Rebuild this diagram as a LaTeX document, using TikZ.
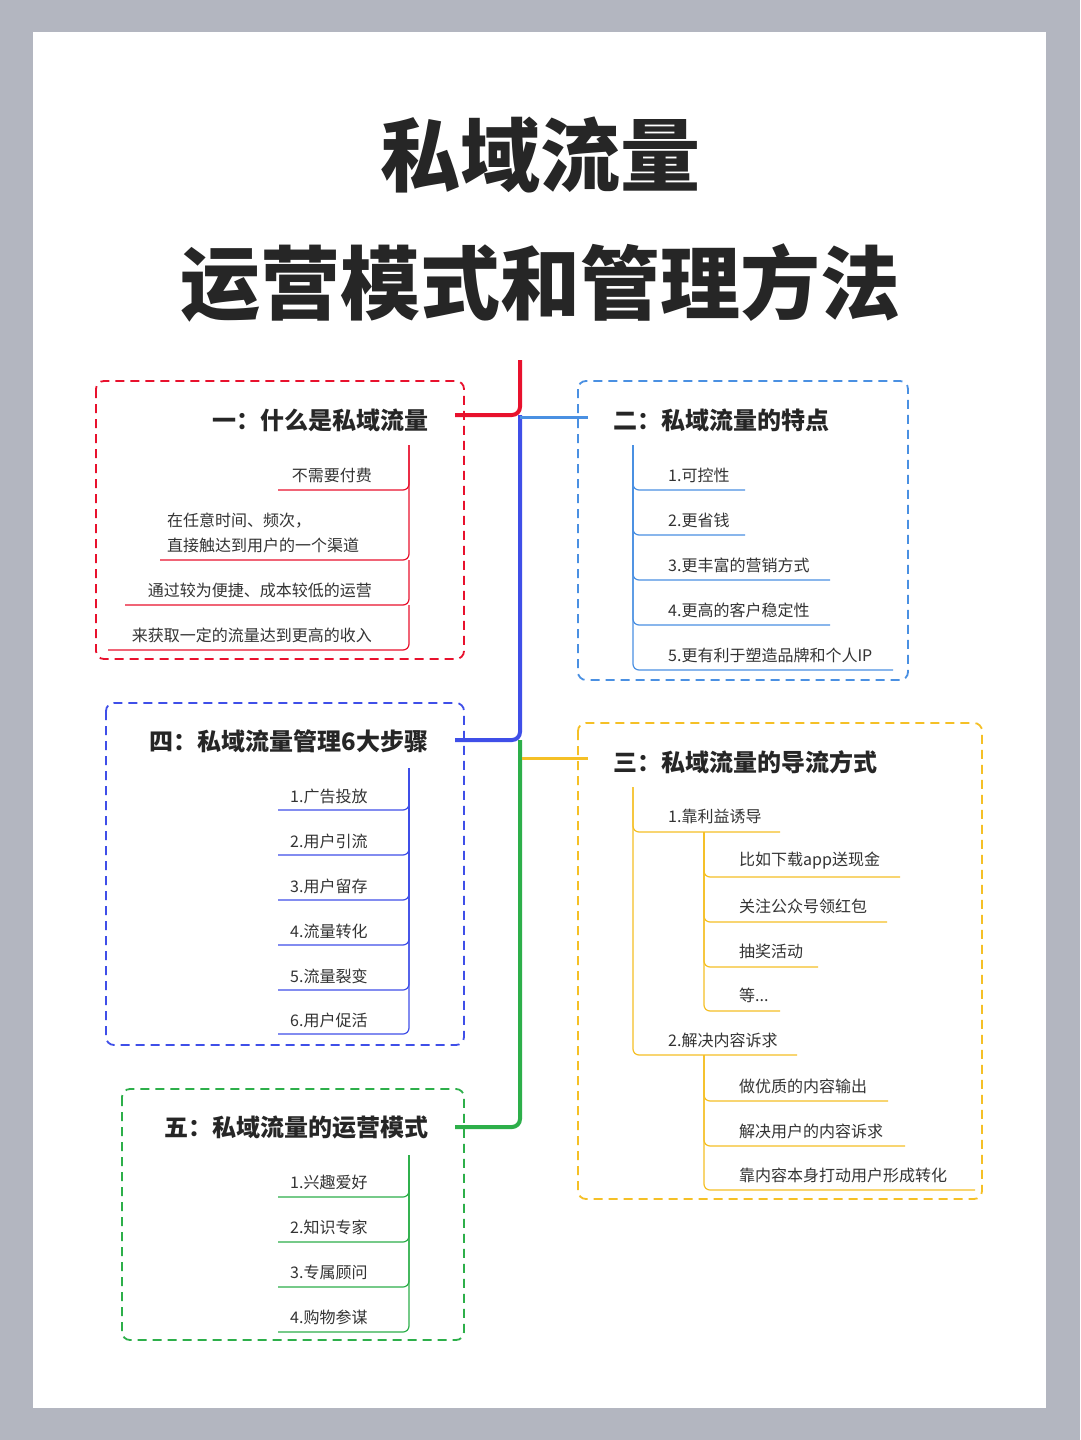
\documentclass[tikz,border=0pt]{standalone}
\usepackage{fontspec}
\setmainfont{Noto Sans CJK SC}
\definecolor{cred}{HTML}{E8112D}
\definecolor{cblue}{HTML}{3F4FE8}
\definecolor{lblue}{HTML}{4A90E2}
\definecolor{cyel}{HTML}{F5C026}
\definecolor{cgrn}{HTML}{2DAF4A}
\definecolor{bgg}{HTML}{B3B6C0}
\begin{document}
\begin{tikzpicture}[x=1pt,y=-1pt,
  dbox/.style={dashed,dash pattern=on 9pt off 6pt,line width=1.8pt,rounded corners=8pt},
  ttl/.style={font=\fontsize{24}{26}\selectfont\bfseries,text=black!85},
  itm/.style={font=\fontsize{16}{18}\selectfont,text=black!80,inner sep=0pt},
  br/.style={line width=1.2pt,rounded corners=6pt},
  trunk/.style={line width=4pt,rounded corners=8pt}]
\fill[bgg] (0,0) rectangle (1080,1440);
\fill[white] (33,32) rectangle (1046,1408);
\node[font=\fontsize{80}{84}\selectfont\bfseries,text=black!85] (t1) at (540,155) {私域流量};
\node[font=\fontsize{80}{84}\selectfont\bfseries,text=black!85] (t2) at (540,283) {运营模式和管理方法};
% trunk
\draw[trunk,cred] (520,360) -- (520,415) -- (455,415);
\draw[trunk,cblue] (520,415) -- (520,740) -- (455,740);
\draw[trunk,cgrn] (520,740) -- (520,1127) -- (455,1127);
\draw[line width=3pt,lblue] (520,417) -- (588,417);
\draw[line width=3pt,cyel] (522,758) -- (588,758);
% boxes
\draw[dbox,cred] (96,381) rectangle (464,659);
\draw[dbox,lblue] (578,381) rectangle (908,680);
\draw[dbox,cblue] (106,703) rectangle (464,1045);
\draw[dbox,cgrn] (122,1089) rectangle (464,1340);
\draw[dbox,cyel] (578,723) rectangle (982,1199);
% titles
\node[ttl,anchor=east] (g1) at (432,420) {一：什么是私域流量};
\node[ttl,anchor=west] (g2) at (610,420) {二：私域流量的特点};
\node[ttl,anchor=east] (g4) at (432,741) {四：私域流量管理6大步骤};
\node[ttl,anchor=east] (g5) at (432,1127) {五：私域流量的运营模式};
\node[ttl,anchor=west] (g3) at (610,762) {三：私域流量的导流方式};
% group 1
\foreach \t/\y/\x in {不需要付费/475/278,通过较为便捷、成本较低的运营/590/125,来获取一定的流量达到更高的收入/635/108}{
  \node[itm,anchor=east] at (372,\y) {\t};
  \draw[br,cred] (\x,\y+15) -- (409,\y+15) -- (409,\y-30);}
\node[itm,anchor=west,align=left,font=\fontsize{16}{25}\selectfont] (a2) at (167,533) {在任意时间、频次，\\直接触达到用户的一个渠道};
\draw[br,cred] (160,560) -- (409,560) -- (409,445);
% group 2
\foreach \t/\y/\e in {1.可控性/475/745,2.更省钱/520/745,3.更丰富的营销方式/565/830,4.更高的客户稳定性/610/830,5.更有利于塑造品牌和个人IP/655/893}{
  \node[itm,anchor=west] at (668,\y) {\t};
  \draw[br,lblue] (633,445) -- (633,\y+15) -- (\e,\y+15);}
% group 4
\foreach \t/\y in {1.广告投放/796,2.用户引流/841,3.用户留存/886,4.流量转化/931,5.流量裂变/976,6.用户促活/1020}{
  \node[itm,anchor=west] at (290,\y) {\t};
  \draw[br,cblue] (278,\y+14) -- (409,\y+14) -- (409,768);}
% group 5
\foreach \t/\y in {1.兴趣爱好/1182,2.知识专家/1227,3.专属顾问/1272,4.购物参谋/1317}{
  \node[itm,anchor=west] at (290,\y) {\t};
  \draw[br,cgrn] (278,\y+15) -- (409,\y+15) -- (409,1155);}
% group 3
\node[itm,anchor=west] (y1) at (668,816) {1.靠利益诱导};
\draw[br,cyel] (633,787) -- (633,832) -- (780,832);
\node[itm,anchor=west] (y2) at (668,1040) {2.解决内容诉求};
\draw[br,cyel] (633,787) -- (633,1055) -- (797,1055);
\foreach \t/\y/\e in {比如下载app送现金/861/900,关注公众号领红包/906/887,抽奖活动/951/818,{等...}/995/780}{
  \node[itm,anchor=west] at (739,\y) {\t};
  \draw[br,cyel] (704,832) -- (704,\y+16) -- (\e,\y+16);}
\foreach \t/\y/\e in {做优质的内容输出/1086/888,解决用户的内容诉求/1131/905,靠内容本身打动用户形成转化/1175/975}{
  \node[itm,anchor=west] at (739,\y) {\t};
  \draw[br,cyel] (704,1055) -- (704,\y+15) -- (\e,\y+15);}
\end{tikzpicture}
\end{document}
